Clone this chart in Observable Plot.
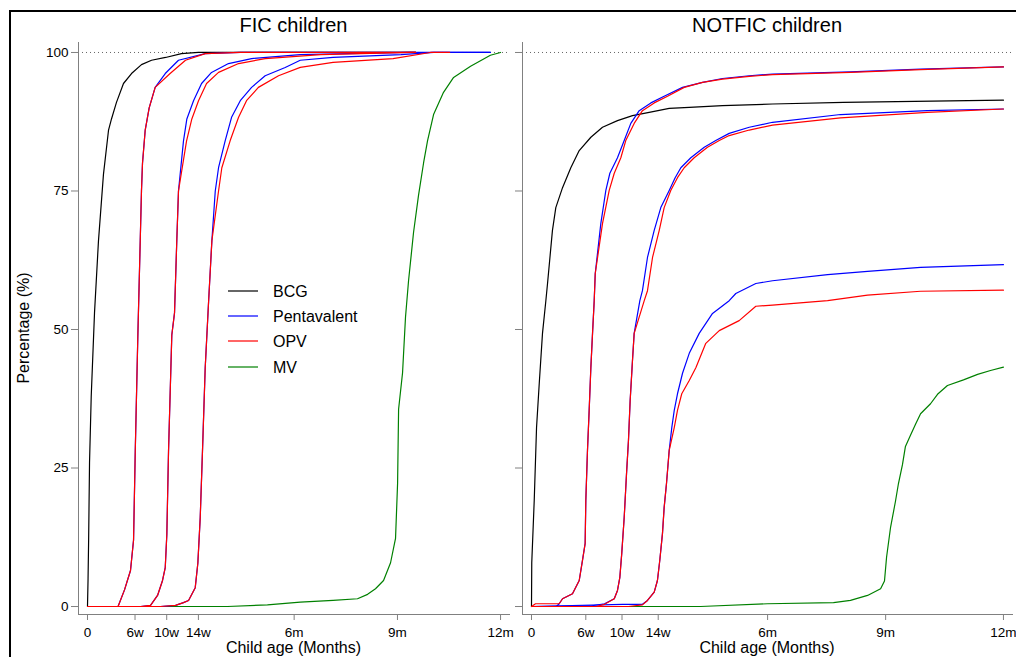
<!DOCTYPE html>
<html><head><meta charset="utf-8">
<script src="https://cdn.jsdelivr.net/npm/d3@7"></script>
<script src="https://cdn.jsdelivr.net/npm/@observablehq/plot@0.6"></script>
<style>
body{margin:0;background:#fff;font-family:"Liberation Sans",Arial,sans-serif;}
#wrap{position:relative;width:1016px;height:657px;overflow:hidden;background:#fff;}
#frame{position:absolute;left:9px;top:10px;width:2000px;height:2000px;border-left:2px solid #000;border-top:2px solid #000;}
#left,#right{position:absolute;top:0;}
#left{left:0;width:520px;height:657px;overflow:visible;}
#right{left:510px;width:506px;height:657px;overflow:hidden;}
#overlay{position:absolute;left:0;top:0;pointer-events:none;}
</style></head>
<body><div id="wrap"><div id="frame"></div><div id="left"></div><div id="right"></div>
<svg id="overlay" width="1016" height="657"></svg></div>
<script>
// ---- tick labels (x in days of child age) ----
const tickDays = [0, 42, 70, 98, 182.6, 273.9, 365];
const tickLabels = ["0", "6w", "10w", "14w", "6m", "9m", "12m"];
const yTicks = [0, 25, 50, 75, 100];
const panelTitles = ["FIC children", "NOTFIC children"];
const vaccines = ["BCG", "Pentavalent", "OPV", "MV"];
const vaccineColors = ["#000000", "#0000ff", "#ff0000", "#008000"];

// ---- FIC children: [day, percentage] ----
const ficBCG = [[0,0],[0.5,5],[1,12],[1.8,26],[3.3,38],[6.2,53],[9.7,66],[14.1,78],[18.6,86],[21.2,88],[25.6,91],[31.8,94.4],[38.9,96.2],[47.7,97.8],[56.6,98.6],[69,99.1],[83,99.8],[98,100],[290,100]];
const ficPenta1 = [[0,0],[27,0],[32.7,3],[38,6.5],[40.7,12],[42.2,28],[44.5,49],[46.6,66],[47.7,75],[48.6,80],[51,86],[54.5,90],[59.8,93.7],[68.7,96.2],[80.4,98.6],[104,99.8],[135,100],[290,100]];
const ficOPV1 = [[0,0],[27,0],[32.7,3],[38,6.5],[40.7,12],[42.2,28],[44.5,49],[46.6,66],[47.7,75],[48.6,80],[51,86],[54.5,90],[59.8,93.7],[73,96.2],[86.6,98.6],[104,99.8],[135,100],[290,100]];
const ficPenta2 = [[0,0],[47,0],[55.7,0.2],[61.9,2],[66.3,4.7],[68.7,7],[70.1,13],[71.6,28],[74.5,49],[76.9,53],[78.9,66],[80.4,75],[84.8,84],[87.8,88],[93.7,91.3],[100.8,94.4],[109.6,96.4],[124.6,98],[145,98.9],[188,99.6],[285,100],[356,100]];
const ficOPV2 = [[0,0],[47,0],[55.7,0.2],[61.9,2],[66.3,4.7],[68.7,7],[70.1,13],[71.6,28],[74.5,49],[76.9,53],[78.9,66],[80.4,75],[87.5,84],[92.2,88],[98.1,91.3],[105.2,94.4],[115.8,96.4],[133.5,98],[157,98.9],[206,99.6],[285,100],[290,100]];
const ficPenta3 = [[0,0],[64.5,0],[77.8,0.2],[84.8,0.7],[89.3,1.1],[95.2,3.4],[97.5,7.8],[99.6,16],[101.6,28],[104,43],[107,55],[109.9,66],[112.9,75],[115.8,79.2],[121.7,84.1],[127.3,88.3],[135,91.3],[145,93.7],[157,95.8],[174.7,97.3],[188,98.6],[217,99.1],[277,99.6],[306,100],[356,100]];
const ficOPV3 = [[0,0],[64.5,0],[77.8,0.2],[84.8,0.7],[89.3,1.1],[95.2,3.4],[97.5,7.8],[99.6,16],[101.6,28],[104,43],[107,55],[109.9,66],[115.8,75],[118.7,79.2],[126.1,84.1],[133.5,88.3],[140.5,91.3],[151,93.7],[168.8,95.8],[188,97.3],[217,98.2],[270,98.9],[303,100],[320,100]];
const ficMV = [[0,0],[123.7,0],[159,0.3],[188,0.8],[217,1.1],[238.6,1.4],[247.5,2.2],[254.5,3.2],[261.6,4.7],[267.8,7.9],[272.2,12.3],[274,22.2],[274.9,35.6],[278.4,42.2],[281,52.2],[283.7,58.8],[288.1,67.5],[292.5,74.2],[297,80.1],[300.5,84.1],[305.8,88.8],[314.6,92.8],[323.5,95.5],[338.5,97.5],[356,99.5],[365,100]];

// ---- NOTFIC children: [day, percentage] ----
const notBCG = [[0,0],[0.2,7.9],[2.1,19.1],[3.9,32.3],[6,40.3],[8.5,49.3],[11.1,55.2],[12.4,58.3],[16.2,67.9],[18.8,72],[24,75.6],[30.4,79.2],[36.9,82.3],[45.9,84.7],[54.9,86.5],[66.5,87.7],[78.1,88.6],[91,89.2],[106.5,89.9],[122,90.1],[147.7,90.4],[186.4,90.7],[241.3,91],[365,91.4]];
const notPenta1 = [[0,0],[19.3,0],[21.4,0.5],[24,1.4],[31.7,2.3],[36.9,4.7],[39.4,8.3],[41.5,11.4],[42,19.1],[43.3,28.2],[44.6,35.4],[45.9,43.1],[47.2,49.3],[48.5,55.2],[49.3,60.1],[53.6,69.1],[57.5,75.1],[60.6,78.2],[66.5,81],[71.7,84.1],[76.8,87.2],[83.3,89.5],[92.3,90.9],[102.6,92.1],[116.8,93.7],[132.3,94.6],[147.7,95.3],[168.4,95.8],[186.4,96.1],[246.7,96.5],[300.9,97],[365,97.4]];
const notOPV1 = [[0,0],[3.1,0.5],[21.4,0.5],[24,1.4],[31.7,2.3],[36.9,4.7],[39.4,8.3],[41.5,11.4],[42,19.1],[43.3,28.2],[44.6,35.4],[45.9,43.1],[47.2,49.3],[48.5,55.2],[49.3,60.1],[54.9,69.1],[60.1,75.1],[64,78.2],[69.1,81],[72.9,84.1],[79.4,87.2],[85.8,89.5],[94.9,90.9],[105.2,92.1],[118.1,93.7],[132.3,94.6],[147.7,95.2],[168.4,95.7],[186.4,96],[246.7,96.4],[300.9,96.9],[365,97.4]];
const notPenta2 = [[0,0],[45.6,0.1],[56.5,0.5],[64,1.4],[66.5,2.9],[68.3,5.2],[69.8,9.6],[71.7,16.1],[73.5,24],[75,30],[76.3,37.2],[78.1,44.4],[79.4,49.3],[83.8,55.2],[85.8,57],[89.7,63],[94.9,67.9],[100,72],[106.5,75.1],[111.1,77.4],[115.5,79.2],[123.2,81],[133.6,82.9],[142.5,84.1],[152.9,85.4],[168.4,86.5],[186.4,87.4],[239,88.8],[306,89.5],[365,89.8]];
const notOPV2 = [[0,0],[50,0],[56.5,0.4],[64,1.4],[66.5,2.9],[68.3,5.2],[69.8,9.6],[71.7,16.1],[73.5,24],[75,30],[76.3,37.2],[78.1,44.4],[79.4,49.3],[87.2,55.2],[89.7,57],[93.6,63],[98.8,67.9],[102.6,72],[107.7,75.1],[112.9,77.4],[118.1,79.2],[125.8,81],[136.1,82.9],[145.2,84.1],[152.9,85],[168.4,86],[186.4,86.9],[239,88.2],[306,89.2],[365,89.8]];
const notPenta3 = [[0,0],[70.4,0.4],[85.8,0.4],[89.7,1.1],[94.9,2.6],[97.4,4.7],[99.2,8.3],[101.3,13.2],[102.6,17.9],[104.4,22.2],[106.5,28.2],[108.5,32.3],[110.4,35.4],[112.9,38.4],[116.8,42.1],[122,45.7],[129.7,49.3],[140,52.9],[152.9,55.2],[158,56.5],[173.5,58.3],[186.4,58.8],[229,59.9],[259.9,60.5],[300.9,61.2],[365,61.7]];
const notOPV3 = [[0,0],[75,0],[85.8,0.3],[89.7,1.1],[94.9,2.6],[97.4,4.7],[99.2,8.3],[101.3,13.2],[102.6,17.9],[104.4,22.2],[106.5,28.2],[110.4,32.3],[112.9,35.4],[116.2,38.4],[122,40.8],[127.1,43.1],[134.8,47.5],[145.2,49.8],[160.6,51.6],[173.5,54.2],[186.4,54.4],[229,55.2],[259.9,56.2],[300.9,56.9],[365,57.1]];
const notMV = [[0,0],[130.7,0],[182.5,0.5],[233.6,0.7],[246.7,1.1],[259.9,2],[270,3.2],[273,4.6],[274.6,8.9],[277.7,14.3],[281.5,19],[283.8,22.2],[286.9,25.6],[289.2,28.9],[293.1,30.9],[297,32.9],[300.9,34.8],[308.6,36.6],[314,38.3],[321.7,39.9],[334.1,40.9],[345,41.9],[355,42.6],[365,43.2]];

// ---- build tables (draw order: BCG, MV, Pentavalent, OPV) ----
function table(curves) {
  const rows = [];
  curves.forEach(([key, vaccine, pts]) => {
    const color = vaccineColors[vaccines.indexOf(vaccine)];
    pts.forEach(([day, pct]) => rows.push({key, vaccine, color, day, pct}));
  });
  return rows;
}
const ficRows = table([
  ["BCG","BCG",ficBCG],["MV","MV",ficMV],
  ["P1","Pentavalent",ficPenta1],["P2","Pentavalent",ficPenta2],["P3","Pentavalent",ficPenta3],
  ["O1","OPV",ficOPV1],["O2","OPV",ficOPV2],["O3","OPV",ficOPV3]
]);
const notRows = table([
  ["BCG","BCG",notBCG],["MV","MV",notMV],
  ["P1","Pentavalent",notPenta1],["P2","Pentavalent",notPenta2],["P3","Pentavalent",notPenta3],
  ["O1","OPV",notOPV1],["O2","OPV",notOPV2],["O3","OPV",notOPV3]
]);

const labelOf = new Map(tickDays.map((d, i) => [d, tickLabels[i]]));
const font = "'Liberation Sans', Arial, sans-serif";

function panel(rows, {width, marginLeft, marginRight, xDomain, yLabels, overflow}) {
  return Plot.plot({
    width, height: 657, marginLeft, marginRight, marginTop: 42, marginBottom: 43,
    x: {domain: xDomain},
    y: {domain: [-1.44, 101.8]},
    color: {type: "identity"},
    style: {fontFamily: font, fontSize: "13.5px", background: "transparent", overflow, color: "#000"},
    marks: [
      Plot.ruleY([100], {stroke: "#666", strokeDasharray: "1,3", strokeWidth: 1}),
      Plot.line(rows, {x: "day", y: "pct", z: "key", stroke: d => d.color, strokeWidth: 1.2}),
      Plot.axisX(tickDays, {tickFormat: d => labelOf.get(d), tickSize: 6, tickPadding: 7, stroke: "#808080", fill: "#000", label: null}),
      Plot.axisY(yTicks, {tickFormat: d => yLabels ? String(d) : "", tickSize: 7, tickPadding: 3, stroke: "#808080", fill: "#000", label: null}),
      Plot.frame({anchor: "left", stroke: "#808080"}),
      Plot.frame({anchor: "bottom", stroke: "#808080"})
    ]
  });
}

document.getElementById("left").append(panel(ficRows, {width: 510, marginLeft: 78, marginRight: 1, xDomain: [-7.95, 372.9], yLabels: true, overflow: "visible"}));
document.getElementById("right").append(panel(notRows, {width: 506, marginLeft: 12, marginRight: 4, xDomain: [-6.96, 372], yLabels: false, overflow: "hidden"}));

// ---- titles, axis labels, legend ----
const ov = d3.select("#overlay").style("font-family", font);
const centers = [293.5, 767];
panelTitles.forEach((t, i) => {
  ov.append("text").attr("x", centers[i]).attr("y", 32).attr("text-anchor", "middle").attr("font-size", 20).attr("fill", "#000").text(t);
  ov.append("text").attr("x", centers[i]).attr("y", 652.5).attr("text-anchor", "middle").attr("font-size", 16).attr("fill", "#000").text("Child age (Months)");
});
ov.append("text").attr("transform", "translate(28.5,328) rotate(-90)").attr("text-anchor", "middle").attr("font-size", 16).attr("fill", "#000").text("Percentage (%)");
const legY = [291, 316, 341, 367];
vaccines.forEach((v, i) => {
  ov.append("line").attr("x1", 228).attr("x2", 258).attr("y1", legY[i]).attr("y2", legY[i]).attr("stroke", vaccineColors[i]).attr("stroke-width", 1.2);
  ov.append("text").attr("x", 273).attr("y", legY[i] + 5.5).attr("font-size", 16).attr("fill", "#000").text(v);
});
</script></body></html>
